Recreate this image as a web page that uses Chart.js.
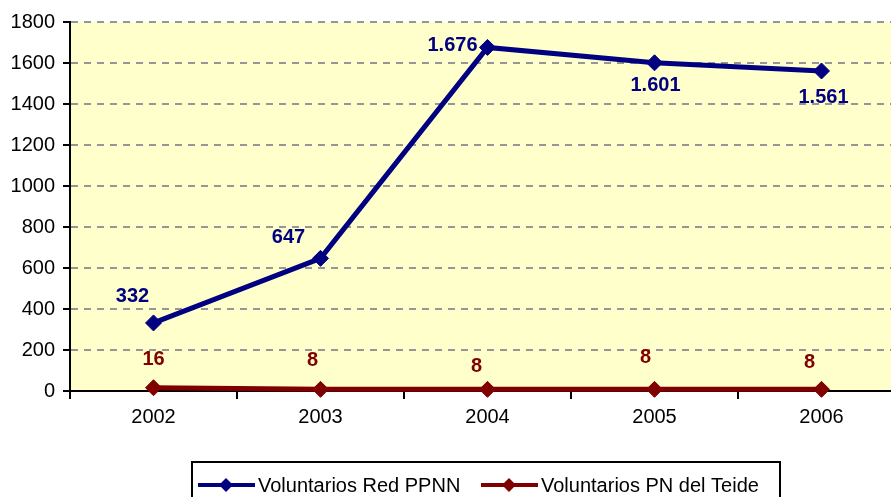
<!DOCTYPE html>
<html lang="es">
<head>
<meta charset="utf-8">
<title>Voluntarios</title>
<script src="https://cdn.jsdelivr.net/npm/chart.js@4.4.1/dist/chart.umd.min.js"></script>
<style>
  html, body { margin: 0; padding: 0; background: #fff; overflow: hidden; }
  #wrap { width: 914px; height: 497px; }
</style>
</head>
<body>
<div id="wrap"><canvas id="grafico" width="914" height="497"></canvas></div>
<script>
// DATOS
const anos = ["2002", "2003", "2004", "2005", "2006"];
const voluntariosRed = [332, 647, 1676, 1601, 1561];
const voluntariosTeide = [16, 8, 8, 8, 8];
const nombresSeries = ["Voluntarios Red PPNN", "Voluntarios PN del Teide"];
const ejeYMin = 0;
const ejeYMax = 1800;
const ejeYPaso = 200;

const AZUL = "#000080";
const ROJO = "#800000";
const FUENTE = "Arial, 'Liberation Sans', sans-serif";

function formatoMiles(v) {
  return String(v).replace(/\B(?=(\d{3})+(?!\d))/g, ".");
}

// fondo amarillo del area de trazado
const fondoPlot = {
  id: "fondoPlot",
  beforeDraw(chart) {
    const { ctx, chartArea: a } = chart;
    ctx.save();
    ctx.fillStyle = "#FFFFCC";
    ctx.fillRect(a.left, a.top, a.right - a.left, a.bottom - a.top);
    ctx.restore();
  },
};

// etiquetas de valores junto a cada punto
const etiquetas = {
  id: "etiquetas",
  afterDatasetsDraw(chart, args, opts) {
    const { ctx } = chart;
    ctx.save();
    ctx.font = "bold 20px " + FUENTE;
    ctx.textAlign = "center";
    ctx.textBaseline = "middle";
    chart.data.datasets.forEach((ds, i) => {
      const meta = chart.getDatasetMeta(i);
      ctx.fillStyle = ds.borderColor;
      meta.data.forEach((pt, j) => {
        const [dx, dy] = opts.desplazamientos[i][j];
        ctx.fillText(formatoMiles(ds.data[j]), pt.x + dx, pt.y + dy);
      });
    });
    ctx.restore();
  },
};

// leyenda con linea y rombo, en recuadro
const leyenda = {
  id: "leyenda",
  afterDraw(chart) {
    const { ctx } = chart;
    const top = 462;
    const left = 192;
    const ancho = 588;
    ctx.save();
    ctx.strokeStyle = "#000";
    ctx.lineWidth = 2;
    ctx.strokeRect(left, top, ancho, 45);

    const y = 485;
    const items = [
      { x: 198, color: AZUL, texto: nombresSeries[0] },
      { x: 481, color: ROJO, texto: nombresSeries[1] },
    ];
    ctx.font = "20px " + FUENTE;
    ctx.textBaseline = "middle";
    ctx.textAlign = "left";
    items.forEach((it) => {
      ctx.strokeStyle = it.color;
      ctx.lineWidth = 4;
      ctx.beginPath();
      ctx.moveTo(it.x, y);
      ctx.lineTo(it.x + 57, y);
      ctx.stroke();
      const cx = it.x + 28;
      ctx.fillStyle = it.color;
      ctx.beginPath();
      ctx.moveTo(cx, y - 7);
      ctx.lineTo(cx + 7, y);
      ctx.lineTo(cx, y + 7);
      ctx.lineTo(cx - 7, y);
      ctx.closePath();
      ctx.fill();
      ctx.fillStyle = "#000";
      ctx.fillText(it.texto, it.x + 60, y + 1);
    });
    ctx.restore();
  },
};

const serie = (label, data, color) => ({
  label,
  data,
  borderColor: color,
  backgroundColor: color,
  borderWidth: 5,
  pointStyle: "rectRot",
  pointRadius: 8,
  pointBorderWidth: 1,
  pointBackgroundColor: color,
  tension: 0,
  clip: false,
});

new Chart(document.getElementById("grafico"), {
  type: "line",
  data: {
    labels: anos,
    datasets: [
      serie(nombresSeries[0], voluntariosRed, AZUL),
      serie(nombresSeries[1], voluntariosTeide, ROJO),
    ],
  },
  options: {
    responsive: false,
    animation: false,
    layout: { padding: { top: 22, left: 0, right: 0, bottom: 0 } },
    plugins: {
      legend: { display: false },
      tooltip: { enabled: false },
      etiquetas: {
        desplazamientos: [
          [[-21, -26], [-32, -21], [-35, -2], [1, 23], [2, 26]],
          [[0, -28], [-8, -29], [-11, -23], [-9, -32], [-12, -27]],
        ],
      },
    },
    scales: {
      x: {
        type: "category",
        offset: true,
        afterFit(scale) { scale.height = 106; },
        grid: {
          offset: true,
          drawOnChartArea: false,
          color: "#000",
          lineWidth: 2,
          tickLength: 8,
        },
        border: { display: true, color: "#000", width: 2 },
        ticks: { color: "#000", font: { family: FUENTE, size: 20 }, padding: 6 },
      },
      y: {
        min: ejeYMin,
        max: ejeYMax,
        afterFit(scale) { scale.width = 70; },
        grid: {
          color: (c) => (c.tick && c.tick.value === 0 ? "rgba(0,0,0,0)" : "#969696"),
          lineWidth: 2,
          tickColor: "#000",
          tickWidth: 2,
          tickLength: 7,
          tickBorderDash: [],
        },
        border: { display: true, color: "#000", width: 2, dash: [7, 6] },
        ticks: {
          stepSize: ejeYPaso,
          color: "#000",
          font: { family: FUENTE, size: 20 },
          padding: 8,
          callback: (v) => String(v),
        },
      },
    },
  },
  plugins: [fondoPlot, etiquetas, leyenda],
});
</script>
</body>
</html>
